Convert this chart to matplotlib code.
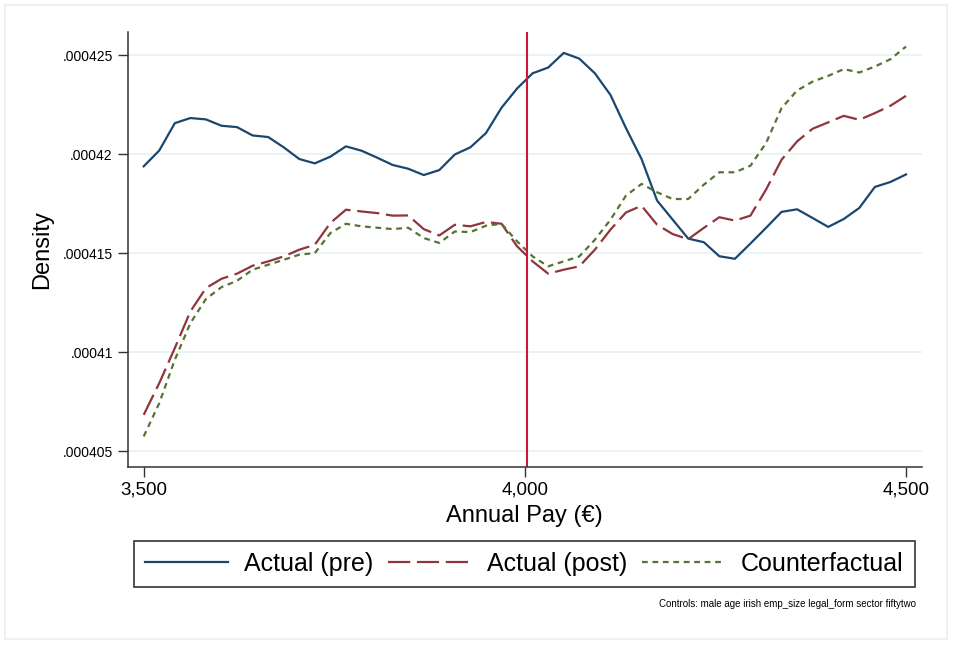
import matplotlib
matplotlib.use("Agg")
import matplotlib.pyplot as plt
import numpy as np

# kdensity evaluation grid: 50 points between 3,500 and 4,500
pay = np.linspace(3500, 4500, 50)

actual_pre = [
	419.38e-6, 420.18e-6, 421.56e-6, 421.82e-6, 421.75e-6, 421.43e-6, 421.36e-6, 420.94e-6, 420.86e-6, 420.34e-6,
	419.75e-6, 419.53e-6, 419.87e-6, 420.39e-6, 420.17e-6, 419.82e-6, 419.45e-6, 419.26e-6, 418.94e-6, 419.19e-6,
	419.98e-6, 420.34e-6, 421.06e-6, 422.34e-6, 423.31e-6, 424.08e-6, 424.37e-6, 425.11e-6, 424.82e-6, 424.08e-6,
	422.99e-6, 421.31e-6, 419.75e-6, 417.65e-6, 416.69e-6, 415.73e-6, 415.55e-6, 414.84e-6, 414.71e-6, 415.48e-6,
	416.27e-6, 417.08e-6, 417.21e-6, 416.77e-6, 416.32e-6, 416.72e-6, 417.28e-6, 418.34e-6, 418.59e-6, 418.97e-6,
]

actual_post = [
	406.83e-6, 408.43e-6, 410.20e-6, 412.05e-6, 413.23e-6, 413.70e-6, 413.96e-6, 414.36e-6, 414.58e-6, 414.83e-6,
	415.17e-6, 415.42e-6, 416.52e-6, 417.19e-6, 417.10e-6, 417.02e-6, 416.89e-6, 416.90e-6, 416.21e-6, 415.89e-6,
	416.43e-6, 416.35e-6, 416.57e-6, 416.48e-6, 415.34e-6, 414.58e-6, 413.96e-6, 414.16e-6, 414.33e-6, 415.17e-6,
	416.18e-6, 417.05e-6, 417.39e-6, 416.43e-6, 415.96e-6, 415.70e-6, 416.27e-6, 416.81e-6, 416.64e-6, 416.89e-6,
	418.20e-6, 419.71e-6, 420.64e-6, 421.28e-6, 421.60e-6, 421.93e-6, 421.73e-6, 422.07e-6, 422.44e-6, 422.94e-6,
]

counterfactual = [
	405.74e-6, 407.42e-6, 409.61e-6, 411.46e-6, 412.68e-6, 413.28e-6, 413.60e-6, 414.16e-6, 414.41e-6, 414.66e-6,
	414.92e-6, 415.00e-6, 416.01e-6, 416.48e-6, 416.35e-6, 416.28e-6, 416.21e-6, 416.28e-6, 415.76e-6, 415.51e-6,
	416.09e-6, 416.06e-6, 416.38e-6, 416.48e-6, 415.59e-6, 414.83e-6, 414.33e-6, 414.58e-6, 414.83e-6, 415.67e-6,
	416.68e-6, 417.90e-6, 418.49e-6, 418.07e-6, 417.73e-6, 417.73e-6, 418.45e-6, 419.08e-6, 419.08e-6, 419.41e-6,
	420.55e-6, 422.32e-6, 423.21e-6, 423.66e-6, 423.95e-6, 424.29e-6, 424.12e-6, 424.42e-6, 424.79e-6, 425.43e-6,
]

cutoff = 4003

x_ticks = [3500, 4000, 4500]
x_tick_labels = ["3,500", "4,000", "4,500"]
y_ticks = [405e-6, 410e-6, 415e-6, 420e-6, 425e-6]
y_tick_labels = [".000405", ".00041", ".000415", ".00042", ".000425"]

plt.rcParams["font.family"] = ["Liberation Sans", "DejaVu Sans"]

fig = plt.figure(figsize=(9.61, 6.5), dpi=100)

# light outer frame, as in Stata exports
frame = plt.Rectangle((5 / 961, 11 / 650), 942 / 961, 634 / 650, transform=fig.transFigure,
	fill=False, edgecolor="#eaf2f3", linewidth=1.5)
fig.add_artist(frame)

ax = fig.add_axes([128 / 961, (650 - 466.7) / 650, (921.7 - 128) / 961, (466.7 - 31.5) / 650])

ax.plot(pay, actual_pre, color="#1a476f", linewidth=1.6, label="Actual (pre)")
ax.plot(pay, actual_post, color="#90353b", linewidth=1.6, dashes=(10, 3), label="Actual (post)")
ax.plot(pay, counterfactual, color="#55752f", linewidth=1.6, dashes=(2.6, 2.1), label="Counterfactual")
ax.axvline(cutoff, color="#c8183c", linewidth=1.5)

ax.set_xlim(3479.4, 4520.6)
ax.set_ylim(404.21e-6, 426.19e-6)

ax.set_xticks(x_ticks)
ax.set_xticklabels(x_tick_labels, fontsize=13.5)
ax.set_yticks(y_ticks)
ax.set_yticklabels(y_tick_labels, fontsize=10)

ax.yaxis.grid(True, color="#eaf2f3", linewidth=1.3)
ax.set_axisbelow(True)

for side in ("top", "right"):
	ax.spines[side].set_visible(False)

for side in ("left", "bottom"):
	ax.spines[side].set_color("#333333")
	ax.spines[side].set_linewidth(1.1)

ax.tick_params(axis="both", length=7, width=1, color="#333333", direction="out")
ax.tick_params(axis="x", pad=4)
ax.tick_params(axis="y", pad=4)

ax.set_xlabel("Annual Pay (€)", fontsize=17)
ax.xaxis.set_label_coords(0.5, -0.087)
ax.set_ylabel("Density", fontsize=17)
ax.yaxis.set_label_coords(-0.0945, 0.5)

leg = fig.legend(loc="center", bbox_to_anchor=(524.5 / 961, (650 - 564) / 650), ncol=3, fontsize=18,
	frameon=True, fancybox=False, edgecolor="black", handlelength=3.3, handletextpad=0.65,
	columnspacing=0.6, borderpad=0.45, borderaxespad=0)
leg.get_frame().set_linewidth(1.2)

fig.text(916 / 961, (650 - 604) / 650, "Controls: male age irish emp_size legal_form sector fiftytwo",
	fontsize=7, ha="right", va="center")

fig.savefig("out.png", dpi=100)
